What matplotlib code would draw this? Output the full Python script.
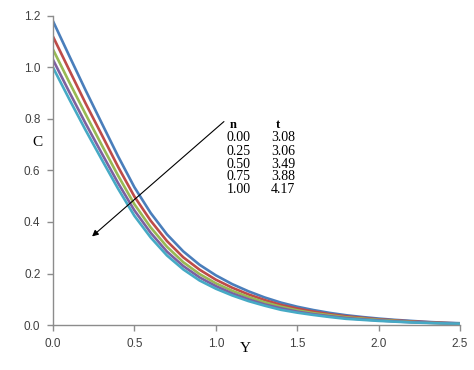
import matplotlib
matplotlib.use("Agg")
import matplotlib.pyplot as plt

# Y grid and concentration profiles
y_vals = [0.0, 0.1, 0.2, 0.3, 0.4, 0.5, 0.6, 0.7, 0.8, 0.9, 1.0, 1.1, 1.2,
          1.3, 1.4, 1.5, 1.6, 1.7, 1.8, 1.9, 2.0, 2.1, 2.2, 2.3, 2.4, 2.5]

c_blue = [1.180, 1.045, 0.912, 0.783, 0.655, 0.535, 0.435, 0.352, 0.286, 0.234,
          0.193, 0.159, 0.131, 0.107, 0.087, 0.071, 0.058, 0.047, 0.038, 0.031,
          0.025, 0.020, 0.016, 0.012, 0.009, 0.007]
c_red = [1.120, 0.990, 0.861, 0.738, 0.614, 0.499, 0.405, 0.326, 0.263, 0.215,
         0.176, 0.145, 0.119, 0.097, 0.078, 0.064, 0.052, 0.042, 0.034, 0.028,
         0.022, 0.018, 0.014, 0.011, 0.008, 0.006]
c_green = [1.070, 0.943, 0.819, 0.698, 0.580, 0.469, 0.379, 0.304, 0.244, 0.198,
           0.162, 0.133, 0.109, 0.088, 0.071, 0.057, 0.046, 0.038, 0.030, 0.025,
           0.020, 0.016, 0.012, 0.009, 0.007, 0.006]
c_purple = [1.030, 0.905, 0.783, 0.666, 0.551, 0.445, 0.358, 0.285, 0.229, 0.185,
            0.151, 0.123, 0.100, 0.080, 0.065, 0.052, 0.042, 0.034, 0.027, 0.022,
            0.018, 0.014, 0.011, 0.009, 0.007, 0.005]
c_cyan = [1.000, 0.877, 0.757, 0.642, 0.529, 0.424, 0.340, 0.270, 0.216, 0.173,
          0.141, 0.115, 0.093, 0.075, 0.059, 0.048, 0.039, 0.031, 0.024, 0.020,
          0.016, 0.013, 0.010, 0.008, 0.006, 0.005]

n_vals = ["0.00", "0.25", "0.50", "0.75", "1.00"]
t_vals = ["3.08", "3.06", "3.49", "3.88", "4.17"]

x_ticks = [0.0, 0.5, 1.0, 1.5, 2.0, 2.5]
y_ticks = [0.0, 0.2, 0.4, 0.6, 0.8, 1.0, 1.2]

series = [c_blue, c_red, c_green, c_purple, c_cyan]
colors = ["#4a7ebb", "#be4b48", "#98b954", "#7d60a0", "#46aac5"]

fig = plt.figure(figsize=(4.74, 3.70), dpi=100)
ax = fig.add_axes([0.1118, 0.1216, 0.8587, 0.8352])

for vals, col in zip(series, colors):
    ax.plot(y_vals, vals, color=col, linewidth=1.9, solid_capstyle="round",
            solid_joinstyle="round")

ax.set_xlim(0, 2.5)
ax.set_ylim(0, 1.2)
ax.set_xticks(x_ticks)
ax.set_yticks(y_ticks)
ax.set_xticklabels([f"{v:.1f}" for v in x_ticks])
ax.set_yticklabels([f"{v:.1f}" for v in y_ticks])

for side in ["top", "right"]:
    ax.spines[side].set_visible(False)
for side in ["left", "bottom"]:
    ax.spines[side].set_color("#8c8c8c")
    ax.spines[side].set_linewidth(1.0)
ax.tick_params(axis="both", direction="out", length=4, width=1.0,
               color="#8c8c8c", labelsize=8.5, labelcolor="#404040", pad=5)
for lab in ax.get_xticklabels() + ax.get_yticklabels():
    lab.set_family("Liberation Sans")

# axis titles (serif, as in the original)
fig.text(37 / 474, 1 - 142 / 370, "C", family="Liberation Serif", fontsize=11,
         ha="center", va="center")
fig.text(245 / 474, 1 - 349 / 370, "Y", family="Liberation Serif", fontsize=11,
         ha="center", va="center")

# arrow showing increasing n
ax.annotate("", xy=(0.24, 0.344), xytext=(1.05, 0.79),
            arrowprops=dict(arrowstyle="-|>", color="black", lw=0.8,
                            mutation_scale=9, shrinkA=0, shrinkB=0))

# table of n and t
ax.text(1.085, 0.775, "n", family="Liberation Serif", fontsize=9,
        fontweight="bold", ha="left", va="center")
ax.text(1.37, 0.775, "t", family="Liberation Serif", fontsize=9,
        fontweight="bold", ha="left", va="center")
row_c = [0.729, 0.675, 0.624, 0.577, 0.527]
for n, t, cv in zip(n_vals, t_vals, row_c):
    ax.text(1.065, cv, n, family="Liberation Serif", fontsize=10,
            ha="left", va="center")
    ax.text(1.34, cv, t, family="Liberation Serif", fontsize=10,
            ha="left", va="center")

fig.savefig("out.png", dpi=100)
